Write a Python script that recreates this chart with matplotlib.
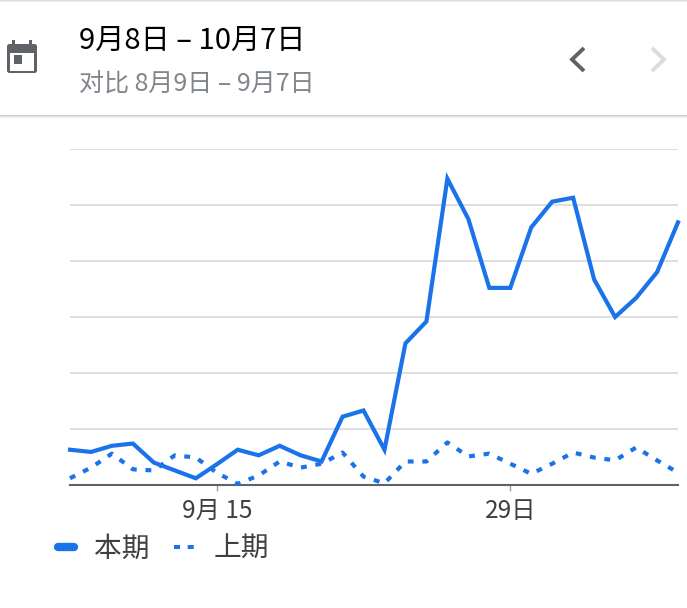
import matplotlib
matplotlib.use("Agg")
import matplotlib.pyplot as plt
from matplotlib.patches import Rectangle, FancyBboxPatch
from matplotlib.lines import Line2D
from matplotlib.legend_handler import HandlerLine2D

plt.rcParams['font.family'] = ['Noto Sans CJK SC', 'DejaVu Sans']

title_text = "9月8日 – 10月7日"
compare_text = "对比 8月9日 – 9月7日"
series_names = ["本期", "上期"]
tick_positions = [7, 21]
tick_labels = ["9月 15", "29日"]
grid_levels = [0, 10, 20, 30, 40, 50, 60]

current_period = [6.3, 5.9, 7.0, 7.4, 4.0, 2.6, 1.2, 3.7, 6.3, 5.3, 7.0, 5.3, 4.2, 12.2, 13.3,
                  6.3, 25.3, 29.2, 54.7, 47.5, 35.2, 35.2, 46.0, 50.6, 51.3, 36.7, 30.0, 33.4, 38.0, 46.9]
previous_period = [1.2, 3.1, 5.6, 2.8, 2.6, 5.3, 4.9, 2.2, 0.2, 1.7, 4.2, 3.1, 3.8, 5.8, 1.5,
                   0.3, 4.2, 4.2, 7.6, 5.1, 5.6, 3.8, 2.0, 3.8, 5.8, 4.9, 4.4, 6.7, 4.4, 2.2]

BLUE = "#1a73e8"
W, H = 687, 608
fig = plt.figure(figsize=(W / 100, H / 100), dpi=100, facecolor="white")

# Chart
ax = fig.add_axes([70 / W, 1 - 485 / H, 608 / W, 336 / H])
days = list(range(len(current_period)))
ax.plot(days, current_period, color=BLUE, lw=3, solid_joinstyle="miter", clip_on=False, zorder=3)
ax.plot(days, previous_period, color=BLUE, lw=3, dashes=(1.4, 2.1), dash_capstyle="butt", clip_on=False, zorder=3)
ax.set_xlim(0, 29)
ax.set_ylim(0, 60)
ax.set_yticks(grid_levels)
ax.tick_params(axis="y", length=0, labelleft=False)
ax.grid(axis="y", color="#dadce0", lw=1.3)
ax.set_axisbelow(True)
ax.set_xticks(tick_positions, tick_labels, fontsize=17.5, color="#3c4043")
ax.tick_params(axis="x", length=4, width=1, color="#9aa0a6", pad=5.5)
for name, spine in ax.spines.items():
    spine.set_visible(name == "bottom")
ax.spines["bottom"].set_color("#5f6368")
ax.spines["bottom"].set_linewidth(1.5)


class ShortHandle(HandlerLine2D):
    def __init__(self, inset, **kwargs):
        super().__init__(**kwargs)
        self.inset = inset

    def create_artists(self, legend, orig_handle, xdescent, ydescent, width, height, fontsize, trans):
        artists = super().create_artists(legend, orig_handle, xdescent, ydescent, width, height, fontsize, trans)
        line = artists[0]
        x, y = line.get_xdata(), line.get_ydata()
        line.set_data([x[0] + self.inset, x[-1] - self.inset], [y[0], y[0]])
        return artists


# Legend
handles = [Line2D([], [], color=BLUE, lw=6, solid_capstyle="round"),
           Line2D([], [], color=BLUE, lw=2.9, dashes=(1.5, 1.9), dash_capstyle="butt")]
fig.legend(handles, series_names, loc="center left", bbox_to_anchor=(55 / W, 1 - 549 / H),
           ncol=2, frameon=False, fontsize=20, labelcolor="#3c4043", handlelength=0.8,
           handletextpad=0.6, columnspacing=0.9, borderpad=0, borderaxespad=0,
           handler_map={handles[0]: ShortHandle(2.2)})

# Header chrome in pixel coordinates
ui = fig.add_axes([0, 0, 1, 1], zorder=-1)
ui.set_xlim(0, W)
ui.set_ylim(H, 0)
ui.axis("off")
for top, shades in ((0, ["#dddddd", "#eeeeee"]), (115, ["#d0d0d0", "#e0e0e0", "#f2f2f2"])):
    for i, c in enumerate(shades):
        ui.add_patch(Rectangle((0, top + i), W, 1, color=c, lw=0))

ui.text(79, 41, title_text, fontsize=21, color="black", va="center", ha="left")
ui.text(79, 84, compare_text, fontsize=18, color="#80868b", va="center", ha="left")

# Calendar icon
ui.add_patch(FancyBboxPatch((7, 44), 30, 29, boxstyle="round,pad=0,rounding_size=2.5", fc="#5f6368", ec="none"))
ui.add_patch(Rectangle((10, 53), 24, 18, fc="white", ec="none"))
ui.add_patch(Rectangle((13.5, 55), 8.5, 8.5, fc="#5f6368", ec="none"))
ui.add_patch(Rectangle((12, 40), 3, 5, fc="#5f6368", ec="none"))
ui.add_patch(Rectangle((28.5, 40), 3, 5, fc="#5f6368", ec="none"))

# Chevrons
ui.plot([584, 572, 584], [48, 59.5, 71], color="#5f6368", lw=2.8, solid_capstyle="butt", solid_joinstyle="miter")
ui.plot([652, 664, 652], [48, 59.5, 71], color="#dcdcdc", lw=2.8, solid_capstyle="butt", solid_joinstyle="miter")

fig.savefig("out.png", dpi=100, facecolor="white")
